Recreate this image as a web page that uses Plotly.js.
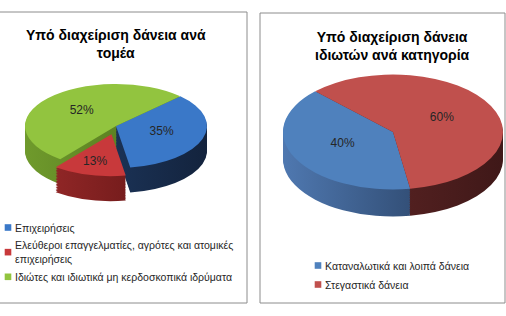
<!DOCTYPE html>
<html>
<head>
<meta charset="utf-8">
<script src="https://cdn.plot.ly/plotly-3.0.1.min.js"></script>
<style>
html,body{margin:0;padding:0;background:#fff;}
#chart{width:506px;height:316px;}
</style>
</head>
<body>
<div id="chart"></div>
<script>
// ---- data ----
const leftTitle = 'Υπό διαχείριση δάνεια ανά<br>τομέα';
const leftLabels = ['Επιχειρήσεις', 'Ελεύθεροι επαγγελματίες, αγρότες και ατομικές<br>επιχειρήσεις', 'Ιδιώτες και ιδιωτικά μη κερδοσκοπικά ιδρύματα'];
const leftValues = [35, 13, 52];
const rightTitle = 'Υπό διαχείριση δάνεια<br>ιδιωτών ανά κατηγορία';
const rightLabels = ['Καταναλωτικά και λοιπά δάνεια', 'Στεγαστικά δάνεια'];
const rightValues = [40, 60];

// ---- styles ----
const W = 506, H = 316;
const FONT = 'Liberation Sans, Arial, sans-serif';
const leftTop = ['#3a78c8', '#c8393b', '#92c43f'];
const leftSide = [['#22406c', '#13233d'], ['#9a2a2a', '#5a1212'], ['#6f9a2c', '#4a6a1a']];
const rightTop = ['#4f81bd', '#c0504d'];
const rightSide = [['#4f78b0', '#1f3350'], ['#6a2a2a', '#3f1818']];

const charts = [
  {labels: leftLabels, values: leftValues, top: leftTop, side: leftSide, cx: 116, cy: 126, r: 91, b: 42, depth: 25,
   pull: [0, 0.2, 0], rotation: 45, legend: 'legend'},
  {labels: rightLabels, values: rightValues, top: rightTop, side: rightSide, cx: 393, cy: 132, r: 110, b: 57.5, depth: 27,
   pull: [0, 0], rotation: 171, legend: 'legend2'}
];

const NL = 16;
const data = [];
const roles = [];
charts.forEach((c, ci) => {
  const maxPull = Math.max.apply(null, c.pull);
  const half = c.r * (1 + maxPull);
  c.k = c.b / c.r;
  const sMax = c.depth / c.k;
  const dom = (shift) => ({x: [(c.cx - half) / W, (c.cx + half) / W],
                           y: [1 - (c.cy + half + shift) / H, 1 - (c.cy - half + shift) / H]});
  for (let i = NL; i >= 1; i--) {
    data.push({type: 'pie', labels: c.labels, values: c.values, sort: false, direction: 'clockwise',
      rotation: c.rotation, pull: c.pull, domain: dom(sMax * i / NL), textinfo: 'none', hoverinfo: 'none',
      showlegend: false, legend: c.legend,
      marker: {colors: c.side.map(s => s[1]), line: {width: 0}}});
    roles.push({chart: ci, top: false});
  }
  data.push({type: 'pie', labels: c.labels, values: c.values, sort: false, direction: 'clockwise',
    rotation: c.rotation, pull: c.pull, domain: dom(0), textinfo: 'percent', textposition: 'inside',
    insidetextorientation: 'horizontal', hoverinfo: 'none', legend: c.legend,
    textfont: {family: FONT, size: 12, color: '#262626'},
    marker: {colors: c.top, line: {width: 0}}});
  roles.push({chart: ci, top: true});
});

const px = x => x / W, py = y => 1 - y / H;
const lineStyle = {color: '#8c8c8c', width: 1};
const layout = {
  width: W, height: H, margin: {l: 0, r: 0, t: 0, b: 0, autoexpand: false},
  paper_bgcolor: '#ffffff', plot_bgcolor: '#ffffff',
  font: {family: FONT, color: '#262626'},
  showlegend: true,
  legend: {x: px(-25), y: py(213), xanchor: 'left', yanchor: 'top', bgcolor: 'rgba(0,0,0,0)',
           font: {family: FONT, size: 10.5, color: '#262626'}, tracegroupgap: 0},
  legend2: {x: px(285), y: py(251), xanchor: 'left', yanchor: 'top', bgcolor: 'rgba(0,0,0,0)',
           font: {family: FONT, size: 10.5, color: '#262626'}},
  annotations: [
    {text: leftTitle, x: px(116), y: py(44), xref: 'paper', yref: 'paper', showarrow: false,
     xanchor: 'center', yanchor: 'middle', font: {family: FONT, size: 14, color: '#000', weight: 'bold'}},
    {text: rightTitle, x: px(392), y: py(46), xref: 'paper', yref: 'paper', showarrow: false,
     xanchor: 'center', yanchor: 'middle', font: {family: FONT, size: 14, color: '#000', weight: 'bold'}}
  ],
  shapes: [
    {type: 'line', xref: 'paper', yref: 'paper', x0: px(0), x1: px(247), y0: py(12), y1: py(12), line: lineStyle},
    {type: 'line', xref: 'paper', yref: 'paper', x0: px(247), x1: px(247), y0: py(12), y1: py(303), line: lineStyle},
    {type: 'line', xref: 'paper', yref: 'paper', x0: px(0), x1: px(247), y0: py(303), y1: py(303), line: lineStyle},
    {type: 'rect', xref: 'paper', yref: 'paper', x0: px(260), x1: px(505), y0: py(13), y1: py(303), line: lineStyle}
  ]
};

const gd = document.getElementById('chart');
Plotly.newPlot(gd, data, layout, {staticPlot: true, displayModeBar: false}).then(() => {
  const svgNS = 'http://www.w3.org/2000/svg';
  const svg = gd.querySelector('svg.main-svg');
  const defs = document.createElementNS(svgNS, 'defs');
  svg.insertBefore(defs, svg.firstChild);
  charts.forEach((c, ci) => {
    c.side.forEach((s, si) => {
      const lg = document.createElementNS(svgNS, 'linearGradient');
      lg.setAttribute('id', 'g' + ci + '_' + si);
      lg.setAttribute('gradientUnits', 'userSpaceOnUse');
      lg.setAttribute('x1', c.cx - c.r); lg.setAttribute('x2', c.cx + c.r);
      lg.setAttribute('y1', 0); lg.setAttribute('y2', 0);
      [[0, s[0]], [1, s[1]]].forEach(([o, col]) => {
        const st = document.createElementNS(svgNS, 'stop');
        st.setAttribute('offset', o); st.setAttribute('stop-color', col);
        lg.appendChild(st);
      });
      defs.appendChild(lg);
    });
  });
  const groups = gd.querySelectorAll('.pielayer g.trace');
  groups.forEach((g, i) => {
    const role = roles[i];
    const c = charts[role.chart];
    const topIdx = roles.findIndex(r => r.chart === role.chart && r.top);
    const cy0 = gd.calcdata[topIdx][0].cy;
    const k = c.k;
    g.setAttribute('transform', 'translate(0,' + (cy0 * (1 - k)) + ') scale(1,' + k + ')');
    if (!role.top) {
      g.querySelectorAll('g.slice').forEach((sl, si) => {
        const p = sl.querySelector('path.surface');
        if (p) p.style.fill = 'url(#g' + role.chart + '_' + si + ')';
      });
    } else {
      g.querySelectorAll('g.slicetext text').forEach(t => {
        const tr = t.getAttribute('transform') || '';
        const m = tr.match(/translate\(\s*([-\d.e]+)[\s,]+([-\d.e]+)\s*\)/);
        if (m) {
          const tx = +m[1], ty = +m[2];
          t.setAttribute('transform', 'translate(' + tx + ',' + ty + ') scale(1,' + (1 / k) + ') translate(' + (-tx) + ',' + (-ty) + ') ' + tr);
        }
      });
    }
  });
  gd.querySelectorAll('path.legendpie').forEach(p => {
    p.setAttribute('transform', 'translate(33,0) scale(0.55)');
  });
});
</script>
</body>
</html>
